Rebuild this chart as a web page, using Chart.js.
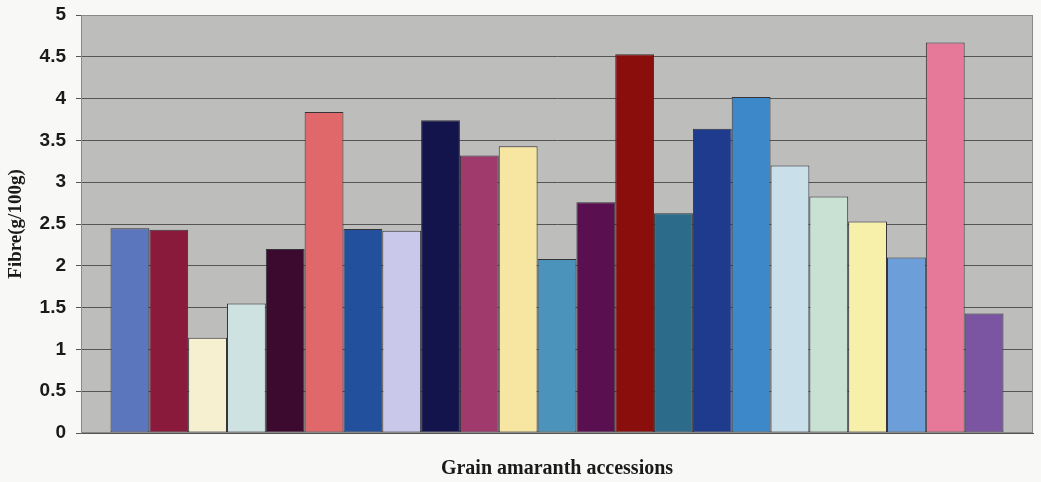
<!DOCTYPE html>
<html>
<head>
<meta charset="utf-8">
<script src="https://cdn.jsdelivr.net/npm/chart.js@4/dist/chart.umd.min.js"></script>
<style>
  html, body { margin: 0; padding: 0; background: #f8f8f6; }
  #wrap { width: 1041px; height: 482px; }
</style>
</head>
<body>
<div id="wrap"><canvas id="c" width="1041" height="482"></canvas></div>
<script>
// Fibre content of the grain amaranth accessions (g/100g)
const accessions = [
  'Acc 1', 'Acc 2', 'Acc 3', 'Acc 4', 'Acc 5', 'Acc 6', 'Acc 7', 'Acc 8',
  'Acc 9', 'Acc 10', 'Acc 11', 'Acc 12', 'Acc 13', 'Acc 14', 'Acc 15', 'Acc 16',
  'Acc 17', 'Acc 18', 'Acc 19', 'Acc 20', 'Acc 21', 'Acc 22', 'Acc 23'
];
const fibreValues = [
  2.45, 2.43, 1.14, 1.55, 2.20, 3.84, 2.44, 2.42,
  3.74, 3.32, 3.43, 2.08, 2.76, 4.53, 2.63, 3.64,
  4.02, 3.20, 2.83, 2.53, 2.10, 4.67, 1.43
];
const barColors = [
  '#5b76bd', '#8a1a3c', '#f6f0d0', '#cfe2e2', '#3c0a2e', '#e0686a', '#22509c', '#c9c8ea',
  '#14144c', '#a03a6c', '#f7e6a2', '#4c93bc', '#5a1050', '#8a0e0c', '#2c6c8a', '#1f3b8e',
  '#3c88c8', '#c9dfea', '#c9e1d2', '#f7f0aa', '#6c9fda', '#e6789a', '#7b54a2'
];
const categories = ['Grain amaranth accessions'];
const yTicks = { min: 0, max: 5, step: 0.5 };

// grey plotting area behind the bars, with a thin frame
const plotBackground = {
  id: 'plotBackground',
  beforeDraw(chart) {
    const { ctx, chartArea: a } = chart;
    ctx.save();
    ctx.fillStyle = '#bdbdbc';
    ctx.fillRect(a.left, a.top, a.right - a.left, a.bottom - a.top);
    ctx.restore();
  },
  afterDraw(chart) {
    const { ctx, chartArea: a } = chart;
    ctx.save();
    ctx.strokeStyle = '#8a8a8a';
    ctx.lineWidth = 1;
    ctx.strokeRect(a.left + 0.5, a.top + 0.5, a.right - a.left - 1, a.bottom - a.top - 1);
    ctx.restore();
  }
};

new Chart(document.getElementById('c'), {
  type: 'bar',
  data: {
    labels: categories,
    datasets: accessions.map((name, i) => ({
      label: name,
      data: [fibreValues[i]],
      backgroundColor: barColors[i],
      borderColor: '#333338',
      borderWidth: 1,
      borderSkipped: false,
      categoryPercentage: 0.938,
      barPercentage: 1
    }))
  },
  options: {
    responsive: false,
    animation: false,
    devicePixelRatio: 1,
    layout: { padding: { left: 0, right: 8, top: 15, bottom: 0 } },
    plugins: {
      legend: { display: false },
      tooltip: { enabled: false }
    },
    scales: {
      x: {
        grid: { display: false },
        border: { display: true, color: '#555', width: 1 },
        ticks: { display: false },
        title: {
          display: true,
          text: 'Grain amaranth accessions',
          color: '#1a1a1a',
          font: { family: 'Liberation Serif', size: 20, weight: 'bold' },
          padding: { top: 0, bottom: 1 }
        },
        afterFit(scale) { scale.height = 49; }
      },
      y: {
        min: yTicks.min,
        max: yTicks.max,
        ticks: {
          stepSize: yTicks.step,
          padding: 10,
          color: '#1a1a1a',
          font: { family: 'Liberation Sans', size: 19, weight: 'bold' },
          callback: v => String(v)
        },
        grid: {
          color: '#555',
          lineWidth: 1,
          tickLength: 5,
          drawTicks: true
        },
        border: { display: true, color: '#777', width: 1 },
        title: {
          display: true,
          text: 'Fibre(g/100g)',
          color: '#1a1a1a',
          font: { family: 'Liberation Serif', size: 19, weight: 'bold' },
          padding: { top: 5, bottom: 0 }
        },
        afterFit(scale) {
          scale.width = 81;
          scale.paddingTop = 0;
          scale.paddingBottom = 0;
        }
      }
    }
  },
  plugins: [plotBackground]
});
</script>
</body>
</html>
